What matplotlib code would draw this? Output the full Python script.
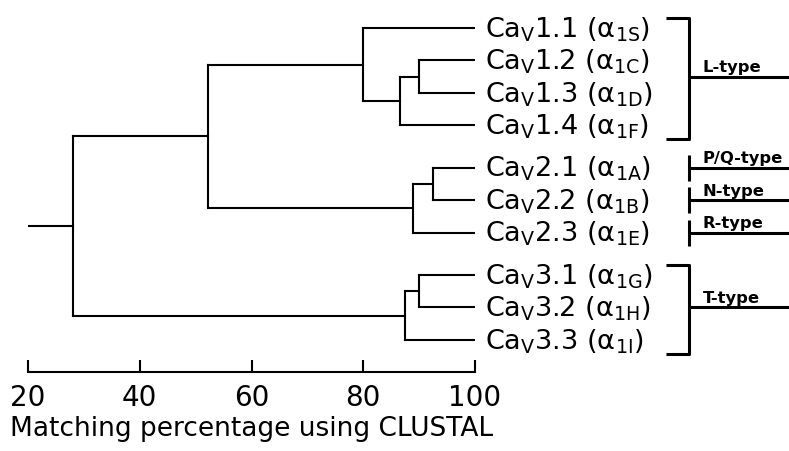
import matplotlib
matplotlib.use("Agg")
import matplotlib.pyplot as plt

plt.rcParams['font.family'] = ['DejaVu Sans']
plt.rcParams['mathtext.fontset'] = 'dejavusans'

# Ca(V) channel alpha1 subunits, top to bottom
channels = ['1.1', '1.2', '1.3', '1.4', '2.1', '2.2', '2.3', '3.1', '3.2', '3.3']
subunits = ['1S', '1C', '1D', '1F', '1A', '1B', '1E', '1G', '1H', '1I']
# vertical slot of every leaf (families separated by a small gap)
leaf_rows = [0, 1, 2, 3, 4.3, 5.3, 6.3, 7.6, 8.6, 9.6]

# merges: (child a, child b, matching %) ; node k gets index 10 + k
merges = [
    (1, 2, 90.0),
    (10, 3, 86.5),
    (0, 11, 80.0),
    (4, 5, 92.5),
    (13, 6, 88.9),
    (7, 8, 90.0),
    (15, 9, 87.5),
    (12, 14, 52.2),
    (17, 16, 28.1),
]
root_start = 20

# channel classes and their members (leaf indices)
class_names = ['L-type', 'P/Q-type', 'N-type', 'R-type', 'T-type']
class_members = [[0, 1, 2, 3], [4], [5], [6], [7, 8, 9]]

fig = plt.figure(figsize=(7.89, 4.52), dpi=100)
ax = fig.add_axes([28 / 789, 79 / 452, 447 / 789, 373 / 452])
ax.set_xlim(20, 100)
ax.set_ylim(10.585, -0.892)

# dendrogram
xs = [100.0] * len(channels)
ys = list(leaf_rows)
tree_kw = dict(color='black', lw=1.5, solid_capstyle='projecting')
for a, b, h in merges:
    for c in (a, b):
        ax.plot([xs[c], h], [ys[c], ys[c]], **tree_kw)
    ax.plot([h, h], [ys[a], ys[b]], **tree_kw)
    xs.append(h)
    ys.append((ys[a] + ys[b]) / 2)
ax.plot([root_start, xs[-1]], [ys[-1], ys[-1]], **tree_kw)

# leaf labels
for ch, su, r in zip(channels, subunits, leaf_rows):
    ax.annotate(r'Ca$_{\mathrm{V}}$' + ch + r' (α$_{\mathrm{' + su + r'}}$)',
                xy=(100, r), xytext=(7, -5.8), textcoords='offset points',
                ha='left', va='baseline', fontsize=19.5, annotation_clip=False)

# class brackets on the right
bx0, bx1, bx_end, tx = 134.2, 138.3, 160, 140.7
br_kw = dict(color='black', lw=2.2, clip_on=False, solid_capstyle='butt')
for name, members in zip(class_names, class_members):
    rows = [leaf_rows[i] for i in members]
    mid = sum(rows) / len(rows)
    if len(members) > 1:
        top, bot = rows[0] - 0.3, rows[-1] + 0.42
        ax.plot([bx0, bx1, bx1, bx0], [top, top, bot, bot], **br_kw)
    else:
        ax.plot([bx1, bx1], [mid - 0.4, mid + 0.4], **br_kw)
    ax.plot([bx1, bx_end], [mid, mid], **br_kw)
    ax.annotate(name, xy=(tx, mid), xytext=(0, 4), textcoords='offset points',
                ha='left', va='baseline', fontsize=11.8, fontweight='bold',
                annotation_clip=False)

# axis
for s in ('top', 'right', 'left'):
    ax.spines[s].set_visible(False)
ax.spines['bottom'].set_linewidth(1.5)
ax.set_yticks([])
ax.set_xticks([20, 40, 60, 80, 100])
ax.tick_params(axis='x', direction='in', length=8.6, width=1.5, pad=8,
               labelsize=20)
ax.set_xlabel('Matching percentage using CLUSTAL', fontsize=19, labelpad=3)

fig.savefig('out.png', dpi=100)
